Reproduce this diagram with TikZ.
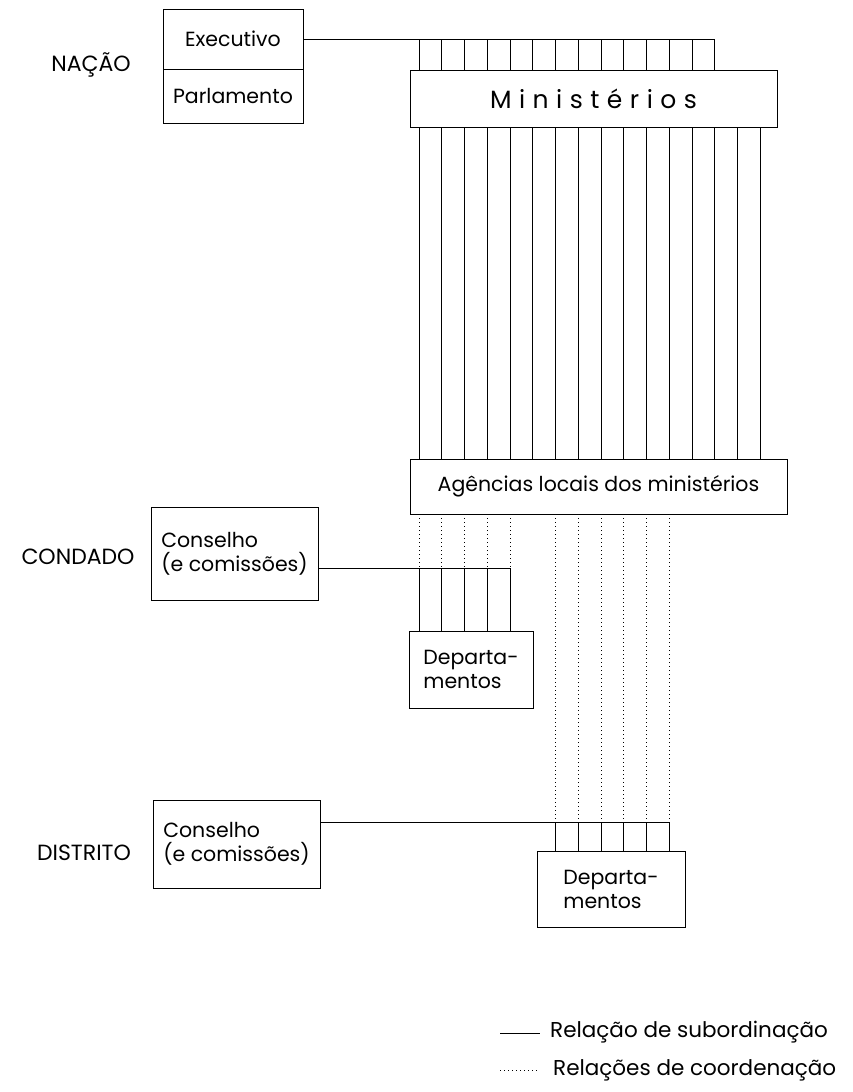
\documentclass[tikz,border=0pt]{standalone}
\usepackage{fontspec}
\setmainfont{Poppins}
\newfontfamily\spacedfont[LetterSpace=30]{Poppins}
\begin{document}
\begin{tikzpicture}[x=1pt, y=-1pt,
	box/.style={draw, line width=0.9pt, inner sep=0pt, align=left, font=\fontsize{20.5}{24}\selectfont},
	level/.style={font=\fontsize{22}{24}\selectfont},
	sub/.style={line width=0.9pt},
	coord/.style={dash pattern=on 1pt off 3pt, line width=0.9pt}]
	\useasboundingbox (0,0) rectangle (853,1092);

	% NACAO
	\node[level] (nacao) at (91, 65) {NAÇÃO};
	\node[box, minimum width=140, minimum height=60] (exec) at (233, 39) {Executivo};
	\node[box, minimum width=140, minimum height=54] (parl) at (233, 96) {Parlamento};
	\node[box, minimum width=367, minimum height=57, font=\fontsize{25}{24}\spacedfont] (min) at (593.5, 98.5) {Ministérios};
	\node[box, minimum width=377, minimum height=55] (agen) at (598.5, 486.5) {Agências locais dos ministérios};

	% CONDADO
	\node[level] (condado) at (78, 557) {CONDADO};
	\node[box, minimum width=167, minimum height=93] (conscond) at (234.5, 553.5) {Conselho\\(e comissões)};
	\node[box, minimum width=124, minimum height=77] (dep1) at (471, 669.5) {Departa-\\mentos};

	% DISTRITO
	\node[level] (distrito) at (84, 853) {DISTRITO};
	\node[box, minimum width=167, minimum height=88] (consdist) at (236.5, 844) {Conselho\\(e comissões)};
	\node[box, minimum width=148, minimum height=76] (dep2) at (611, 889) {Departa-\\mentos};

	% linhas
	\coordinate (execline) at (714.75, 39);
	\coordinate (condline) at (510, 568);
	\coordinate (distline) at (669.25, 822);
	\draw[sub] (exec.east) -- (execline);
	\draw[sub] (conscond.east |- condline) -- (condline);
	\draw[sub] (consdist.east |- distline) -- (distline);

	\foreach \i in {0,...,15} {
		\coordinate (m\i) at (419+22.75*\i, 0);
		\draw[sub] (m\i |- min.south) -- (m\i |- agen.north);
	}
	\foreach \i in {0,...,13}
		\draw[sub] (m\i |- execline) -- (m\i |- min.north);
	\foreach \i in {0,...,4} {
		\draw[coord] (m\i |- agen.south) -- (m\i |- condline);
		\draw[sub] (m\i |- condline) -- (m\i |- dep1.north);
	}
	\foreach \i in {6,...,11} {
		\draw[coord] (m\i |- agen.south) -- (m\i |- distline);
		\draw[sub] (m\i |- distline) -- (m\i |- dep2.north);
	}

	% legenda
	\node[anchor=west, inner sep=0pt, font=\fontsize{21.5}{24}\selectfont] (legsub) at (550, 1032) {Relação de subordinação};
	\node[anchor=west, inner sep=0pt, font=\fontsize{21.5}{24}\selectfont] (legcoord) at (553, 1070) {Relações de coordenação};
	\coordinate (lsub) at (500, 1033);
	\coordinate (lcoord) at (500, 1070);
	\draw[sub] (lsub) -- ([xshift=-10pt]legsub.west |- lsub);
	\draw[coord] (lcoord) -- ([xshift=-13pt]legcoord.west);
\end{tikzpicture}
\end{document}
